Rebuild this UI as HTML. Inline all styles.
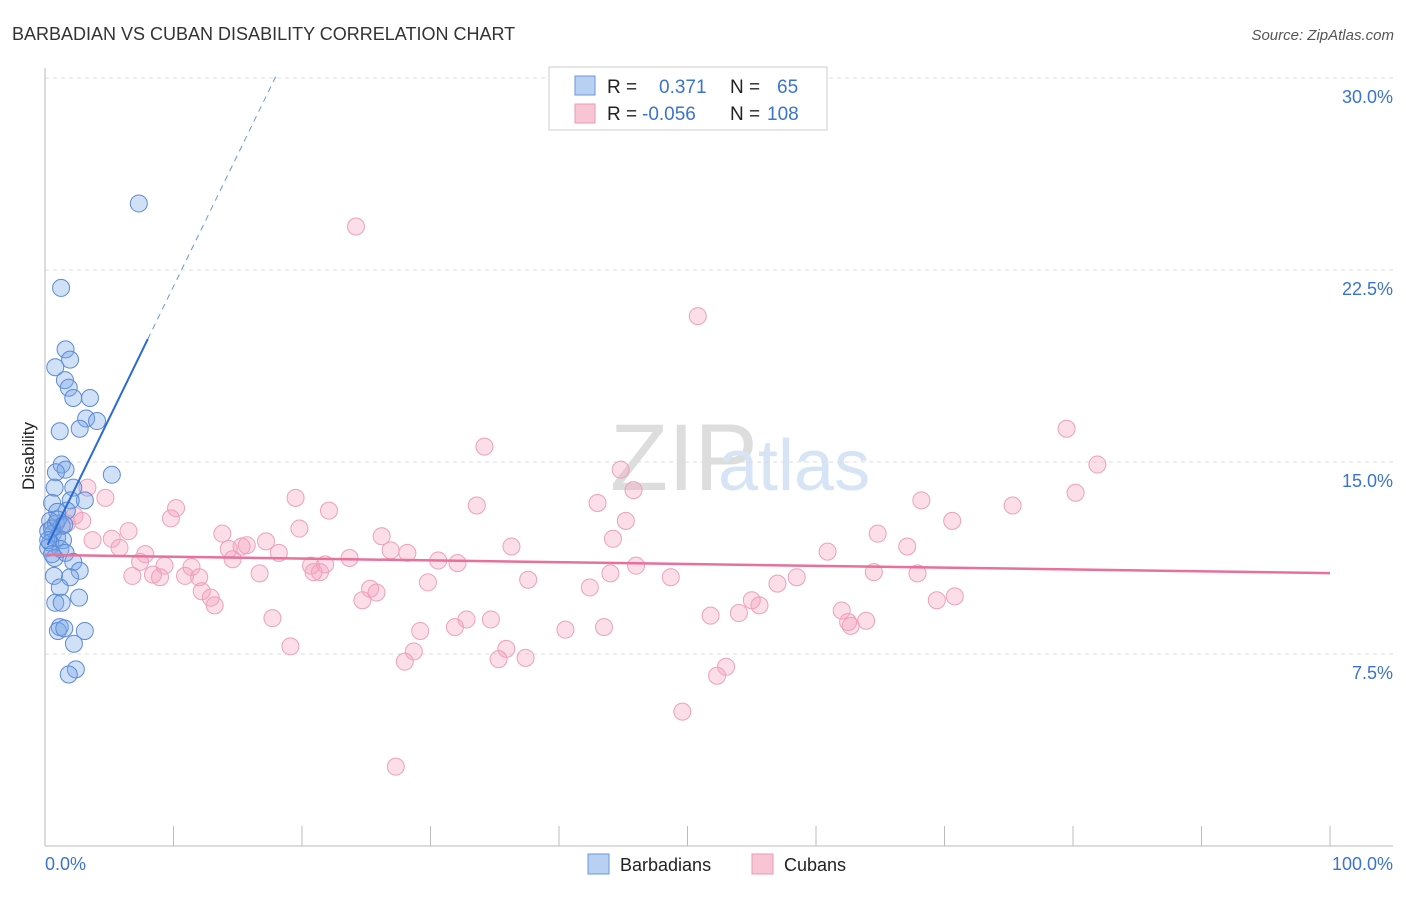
<!DOCTYPE html>
<html><head><meta charset="utf-8"><style>
body{margin:0;background:#fff;font-family:"Liberation Sans",sans-serif;}
svg text{font-family:"Liberation Sans",sans-serif;}
</style></head><body>
<svg id="chart" width="1406" height="892" xmlns="http://www.w3.org/2000/svg">
<text x="12" y="40" font-size="18" fill="#333">BARBADIAN VS CUBAN DISABILITY CORRELATION CHART</text>
<text x="1394" y="40" font-size="15" fill="#555" font-style="italic" text-anchor="end">Source: ZipAtlas.com</text>
<text x="610" y="490" font-size="95" fill="#ddd" font-family="Liberation Serif">ZIP</text>
<text x="718" y="490" font-size="72" fill="#d6e4f5">atlas</text>
<g id="grid"></g><g id="axes"></g><g id="pink"></g><g id="blue"></g><g id="lines"></g>
<text transform="translate(34,456) rotate(-90)" font-size="17" fill="#222" text-anchor="middle">Disability</text>
<text x="45" y="870" font-size="18" fill="#3b73d1">0.0%</text>
<text x="1393" y="870" font-size="18" fill="#3b73d1" text-anchor="end">100.0%</text>
<g>
<rect x="549" y="67" width="278" height="63" fill="#fff" stroke="#ccc"/>
<rect x="575" y="76" width="20" height="19" fill="#b8d0f2" stroke="#6a96dc"/>
<rect x="575" y="104" width="20" height="19" fill="#f8c5d4" stroke="#e99ab3"/>
<text x="607" y="93" font-size="19" fill="#222">R = </text><text x="659" y="93" font-size="19" fill="#3b73d1">0.371</text>
<text x="730" y="93" font-size="19" fill="#222">N = </text><text x="777" y="93" font-size="19" fill="#3b73d1">65</text>
<text x="607" y="120" font-size="19" fill="#222">R = </text><text x="642" y="120" font-size="19" fill="#3b73d1">-0.056</text>
<text x="730" y="120" font-size="19" fill="#222">N = </text><text x="767" y="120" font-size="19" fill="#3b73d1">108</text>
</g>
<g>
<rect x="588" y="854" width="21" height="20" fill="#b8d0f2" stroke="#6a96dc"/>
<text x="620" y="871" font-size="18" fill="#222">Barbadians</text>
<rect x="752" y="854" width="21" height="20" fill="#f8c5d4" stroke="#e99ab3"/>
<text x="784" y="871" font-size="18" fill="#222">Cubans</text>
</g>
</svg>
<script>
const yTicks=[7.5,15,22.5,30];
const yTickLabels=["7.5%","15.0%","22.5%","30.0%"];
const xTicks=[0,10,20,30,40,50,60,70,80,90,100];
const blueX=[7.3,1.25,1.6,1.95,0.8,1.55,1.85,2.2,3.5,3.2,4.05,2.7,1.15,5.2,1.3,1.6,0.85,0.75,2.2,3.1,2.0,0.55,1.7,0.95,0.4,0.85,1.3,0.25,0.6,0.95,1.4,0.4,0.25,1.2,1.6,0.75,2.2,2.7,0.7,1.95,1.15,2.65,0.8,1.3,1.15,1.0,1.5,3.1,2.25,2.4,1.85,0.55,1.0,1.5,0.25,0.55];
const blueY=[25.1,21.8,19.4,19.0,18.7,18.2,17.9,17.5,17.5,16.7,16.6,16.3,16.2,14.5,14.9,14.7,14.6,14.0,14.0,13.5,13.5,13.4,13.1,13.05,12.7,12.6,12.5,12.3,12.2,12.05,11.95,11.85,11.65,11.6,11.45,11.25,11.1,10.75,10.55,10.5,10.1,9.7,9.5,9.5,8.55,8.4,8.5,8.4,7.9,6.9,6.7,12.4,12.75,12.55,11.95,11.4];
const pinkX=[24.2,50.8,79.5,34.2,81.9,44.8,45.8,80.2,3.3,4.7,19.5,33.6,43.0,68.2,75.3,10.2,22.1,9.8,2.3,1.7,2.9,45.2,70.6,6.5,13.8,19.8,5.2,26.2,44.2,64.8,17.2,3.7,5.8,14.3,15.3,15.7,18.2,26.9,28.2,36.3,60.9,67.1,7.8,14.6,7.4,9.3,11.4,20.7,21.8,23.7,30.6,32.1,46.0,20.9,21.4,16.7,10.9,12.0,6.8,8.4,8.95,37.6,44.0,48.7,58.5,64.5,67.9,29.8,42.4,57.0,12.2,25.3,25.8,12.9,13.2,24.7,55.0,55.6,69.4,70.8,62.0,62.5,62.7,63.9,32.8,34.7,51.8,54.0,17.7,29.2,31.9,40.5,43.5,19.1,28.7,35.9,28.0,35.3,37.4,53.0,52.3,49.6,27.3];
const pinkY=[24.2,20.7,16.3,15.6,14.9,14.7,13.9,13.8,14.0,13.6,13.6,13.3,13.4,13.5,13.3,13.2,13.1,12.8,12.9,12.6,12.7,12.7,12.7,12.3,12.2,12.4,12.0,12.1,12.0,12.2,11.9,11.95,11.65,11.6,11.7,11.75,11.45,11.55,11.45,11.7,11.5,11.7,11.4,11.2,11.1,10.95,10.9,10.95,11.0,11.25,11.15,11.05,10.95,10.7,10.7,10.65,10.55,10.5,10.55,10.6,10.5,10.4,10.65,10.5,10.5,10.7,10.65,10.3,10.1,10.25,9.95,10.05,9.9,9.7,9.4,9.6,9.6,9.4,9.6,9.75,9.2,8.75,8.6,8.8,8.85,8.85,9.0,9.1,8.9,8.4,8.55,8.45,8.55,7.8,7.6,7.7,7.2,7.3,7.35,7.0,6.65,5.25,3.1];
const blueFit=[11.56,1.03,8.0,18.0];
const pinkFit=[11.37,10.66];
const X=v=>45+v*12.85, Y=v=>846-v*25.6;
const ns="http://www.w3.org/2000/svg";
function mk(tag,attrs,parent){const e=document.createElementNS(ns,tag);for(const k in attrs)e.setAttribute(k,attrs[k]);document.getElementById(parent).appendChild(e);return e;}
yTicks.forEach((t,i)=>{
 const l=mk('line',{x1:45,x2:1393,y1:Y(t),y2:Y(t),stroke:'#ddd','stroke-dasharray':'4,4'},'grid');
 
 
 const tx=mk('text',{x:1393,y:Y(t)+25,'font-size':18,fill:'#3b73d1','text-anchor':'end'},'grid');
 tx.textContent=yTickLabels[i];
 
 
});
const ax=mk('line',{x1:45,x2:1393,y1:846,y2:846,stroke:'#bbb'},'axes');


const ay=mk('line',{x1:45,x2:45,y1:68,y2:846,stroke:'#bbb'},'axes');


xTicks.forEach(t=>{const l=mk('line',{x1:X(t),x2:X(t),y1:826,y2:846,stroke:'#bbb'},'axes');
 
 });
pinkX.forEach((x,i)=>{const c=mk('circle',{cx:X(x),cy:Y(pinkY[i]),r:8.5,fill:'rgba(244,160,188,0.35)',stroke:'#eea0ba','stroke-width':1},'pink');
 
 });
blueX.forEach((x,i)=>{const c=mk('circle',{cx:X(x),cy:Y(blueY[i]),r:8.5,fill:'rgba(120,165,230,0.35)',stroke:'#5b8ad8','stroke-width':1},'blue');
 
 });
const bf=v=>blueFit[0]+blueFit[1]*v;
const b1=mk('line',{x1:X(0.2),y1:Y(bf(0.2)),x2:X(blueFit[2]),y2:Y(bf(blueFit[2])),stroke:'#2a6ad6','stroke-width':2},'lines');


const b2=mk('line',{x1:X(blueFit[2]),y1:Y(bf(blueFit[2])),x2:X(blueFit[3]),y2:Y(bf(blueFit[3])),stroke:'#6a96dc','stroke-width':1,'stroke-dasharray':'6,5'},'lines');


const p=mk('line',{x1:X(0),y1:Y(pinkFit[0]),x2:X(100),y2:Y(pinkFit[1]),stroke:'#e8709a','stroke-width':2.5},'lines');


</script>
</body></html>
